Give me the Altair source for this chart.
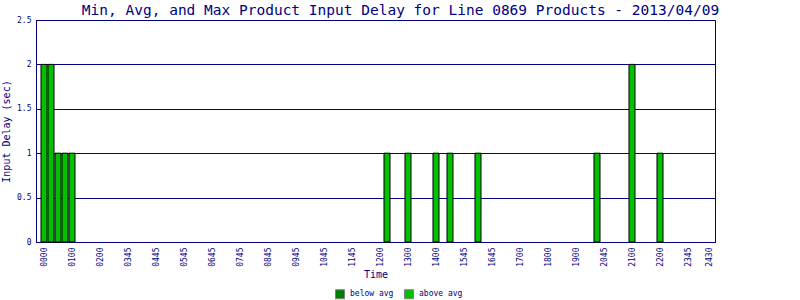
import altair as alt
import pandas as pd

# Quarter-hour slot index (0..95) of each bar, value in seconds, and class
bar_slots = [0, 1, 2, 3, 4, 49, 52, 56, 58, 62, 79, 84, 88]
bar_values = [2, 2, 1, 1, 1, 1, 1, 1, 1, 1, 1, 2, 1]
bar_classes = ["above avg"] * 13

# x tick positions (slot index) and their labels
tick_slots = [0, 4, 8, 12, 16, 20, 24, 28, 32, 36, 40, 44, 48, 52, 56, 60,
              64, 68, 72, 76, 80, 84, 88, 92, 95]
tick_labels = ["0000", "0100", "0200", "0345", "0445", "0545", "0645", "0745",
               "0845", "0945", "1045", "1145", "1200", "1300", "1400", "1545",
               "1645", "1700", "1800", "1900", "2045", "2100", "2200", "2345",
               "2430"]

y_ticks = [0, 0.5, 1, 1.5, 2, 2.5]
legend_classes = ["below avg", "above avg"]
legend_colors = ["#008000", "#00C000"]

NAVY = "#000080"
MONO = "DejaVu Sans Mono"
HALF = 0.43

df = pd.DataFrame({
    "slot": bar_slots,
    "value": bar_values,
    "cls": bar_classes,
})
df["x0"] = df["slot"] - HALF
df["x1"] = df["slot"] + HALF

label_expr = "[" + ",".join("'%s'" % t for t in tick_labels) + "][indexof([" + \
    ",".join(str(s) for s in tick_slots) + "], datum.value)]"

chart = alt.Chart(df).mark_bar(stroke="black", strokeWidth=1).encode(
    x=alt.X("x0:Q",
            scale=alt.Scale(domain=[-8 / 7, 671 / 7], nice=False, zero=False,
                            padding=0),
            axis=alt.Axis(values=tick_slots, labelExpr=label_expr, title="Time",
                          labelAngle=270, labelAlign="right", labelBaseline="middle",
                          labelPadding=5, labelFont=MONO, labelFontSize=8,
                          labelColor=NAVY, labelOverlap=False, labelFlush=False,
                          ticks=False, grid=False, domainColor=NAVY,
                          titleFont=MONO, titleFontSize=10, titleFontWeight="normal",
                          titleColor=NAVY, titlePadding=3)),
    x2="x1:Q",
    y=alt.Y("value:Q",
            scale=alt.Scale(domain=[0, 2.5], nice=False, padding=0),
            axis=alt.Axis(values=y_ticks, format=".1~f", title="Input Delay (sec)",
                          labelFont=MONO, labelFontSize=8, labelColor=NAVY,
                          labelPadding=5, ticks=False, grid=True, gridColor=NAVY,
                          gridOpacity=1, gridWidth=1, domainColor=NAVY,
                          titleFont=MONO, titleFontSize=10, titleFontWeight="normal",
                          titleColor=NAVY, titlePadding=5)),
    y2=alt.datum(0),
    color=alt.Color("cls:N",
                    scale=alt.Scale(domain=legend_classes, range=legend_colors),
                    legend=alt.Legend(title=None, orient="none", legendX=299,
                                      legendY=269, direction="horizontal",
                                      symbolType="square", symbolSize=81,
                                      symbolStrokeColor="#808080",
                                      symbolStrokeWidth=1, symbolOpacity=1,
                                      labelFont=MONO, labelFontSize=8,
                                      labelColor=NAVY, labelOffset=5,
                                      columnPadding=8)),
).properties(
    width=679,
    height=222,
    title=alt.TitleParams(
        "Min, Avg, and Max Product Input Delay for Line 0869 Products - 2013/04/09",
        font=MONO, fontSize=14.5, fontWeight="normal", color=NAVY,
        anchor="middle", dx=25, offset=-2, baseline="top"),
    autosize=alt.AutoSizeParams(type="none"),
    padding={"left": 36, "top": 20, "right": 85, "bottom": 58},
    background="white",
).configure_view(stroke=NAVY, strokeWidth=1)

chart.save("out.html", embed_options={"renderer": "svg", "actions": False})
